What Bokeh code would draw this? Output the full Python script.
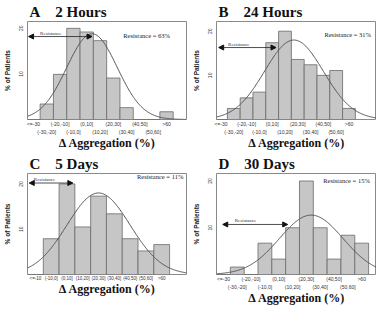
import numpy as np
from bokeh.plotting import figure
from bokeh.layouts import gridplot
from bokeh.models import FixedTicker, Arrow, NormalHead, Label, Range1d, LinearAxis
from bokeh.embed import file_html
from bokeh.resources import INLINE

# ---------------- data ----------------
labels_wide = ["<=-30", "(-30,-20]", "(-20,-10]", "(-10,0]", "(0,10]", "(10,20]",
               "(20,30]", "(30,40]", "(40,50]", "(50,60]", ">60"]
labels_narrow = ["<=-10", "(-10,0]", "(0,10]", "(10,20]", "(20,30]", "(30,40]",
                 "(40,50]", "(50,60]", ">60"]

pct_2h = [0, 3.4, 9.9, 20.0, 19.2, 17.3, 9.1, 2.6, 0, 0, 1.7]
pct_24h = [0, 2.5, 4.9, 6.2, 17.4, 20.0, 13.6, 12.4, 10.0, 11.1, 2.5]
pct_5d = [0, 7.9, 20.0, 10.5, 17.3, 13.4, 7.9, 5.2, 6.6]
pct_30d = [0, 1.6, 0, 6.7, 3.3, 10.0, 20.0, 10.0, 3.3, 8.4, 6.7]

# fitted normal curves: mean (%), sd (%), peak height (% of patients)
fit_2h = (9.0, 19.0, 18.8)
fit_24h = (22.0, 23.0, 18.0)
fit_5d = (25.0, 20.0, 18.0)
fit_30d = (28.5, 23.0, 12.7)

resistance = ["63%", "31%", "11%", "15%"]
titles = ["A\u00a0\u00a0\u00a0\u00a02 Hours", "B\u00a0\u00a0\u00a0\u00a024 Hours",
          "C\u00a0\u00a0\u00a0\u00a05 Days", "D\u00a0\u00a0\u00a0\u00a030 Days"]
x_title = "\u0394 Aggregation (%)"
y_title = "% of Patients"
y_ticks = [10, 20]

FILL = "#c6c6c6"
EDGE = "#6a6a6a"


def style_x(ax, ticks, labels, size, standoff):
    ax.ticker = FixedTicker(ticks=ticks)
    ax.major_label_overrides = {t: labels[t] for t in ticks}
    ax.major_label_text_font_size = size
    ax.major_label_text_color = "#333"
    ax.major_label_standoff = standoff
    ax.axis_line_color = None
    ax.major_tick_line_color = None
    ax.minor_tick_line_color = None
    ax.major_tick_out = 0
    ax.major_tick_in = 0
    ax.minor_tick_out = 0
    ax.minor_tick_in = 0


def set_xtitle(ax):
    ax.axis_label = x_title
    ax.axis_label_text_font = "Liberation Serif"
    ax.axis_label_text_font_style = "bold"
    ax.axis_label_text_font_size = "12px"
    ax.axis_label_text_color = "#111"
    ax.axis_label_standoff = -2


def panel(title, labels, values, fit, offset, res, xr, ymax, arrow, res_pos,
          two_rows, w, h, left, right, lab_size):
    p = figure(width=w, height=h, output_backend="svg", toolbar_location=None,
               x_range=Range1d(*xr), y_range=Range1d(0, ymax),
               min_border_left=left, min_border_right=right,
               min_border_top=0, min_border_bottom=0,
               background_fill_color="white", border_fill_color="white")
    p.title.text = title
    p.title.text_font = "Liberation Serif"
    p.title.text_font_style = "bold"
    p.title.text_font_size = "15px"
    p.title.text_color = "#111"
    p.title.offset = 2
    p.title.standoff = 3
    p.grid.visible = False
    p.outline_line_color = "#8a8a8a"
    p.outline_line_width = 1

    xs = list(range(len(labels)))
    p.vbar(x=xs, top=values, width=1.0, bottom=0, fill_color=FILL,
           line_color=EDGE, line_width=0.8)

    mu, sd, pk = fit
    cx = np.linspace(xr[0], xr[1], 200)
    v = (cx - offset) * 10.0
    cy = pk * np.exp(-((v - mu) ** 2) / (2 * sd ** 2))
    p.line(cx, cy, line_color="#555555", line_width=1)

    if two_rows:
        style_x(p.xaxis[0], xs[0::2], labels, lab_size, 1)
        ax2 = LinearAxis()
        style_x(ax2, xs[1::2], labels, lab_size, -1)
        set_xtitle(ax2)
        p.add_layout(ax2, "below")
    else:
        style_x(p.xaxis[0], xs, labels, lab_size, 1)
        set_xtitle(p.xaxis[0])

    ay = p.yaxis[0]
    ay.ticker = FixedTicker(ticks=y_ticks)
    ay.major_label_orientation = "vertical"
    ay.major_label_text_font_size = "5px"
    ay.major_label_text_color = "#333"
    ay.major_label_standoff = 4
    ay.axis_line_color = None
    ay.major_tick_line_color = None
    ay.minor_tick_line_color = None
    ay.major_tick_out = 0
    ay.major_tick_in = 0
    ay.minor_tick_out = 0
    ay.minor_tick_in = 0
    ay.axis_label = y_title
    ay.axis_label_text_font = "Liberation Sans"
    ay.axis_label_text_font_style = "bold"
    ay.axis_label_text_font_size = "6.5px"
    ay.axis_label_text_color = "#222"
    ay.axis_label_standoff = 6

    x0, x1, ya = arrow
    p.add_layout(Arrow(x_start=x0, y_start=ya, x_end=x1, y_end=ya,
                       line_color="#222", line_width=0.8,
                       start=NormalHead(size=5, fill_color="#111", line_color="#111"),
                       end=NormalHead(size=5, fill_color="#111", line_color="#111")))
    p.add_layout(Label(x=(x0 + x1) / 2 - (x1 - x0) * 0.15, y=ya, y_offset=1,
                       text="Resistance", text_font="Liberation Serif",
                       text_font_size="5px", text_color="#333",
                       text_align="center", text_baseline="bottom"))
    p.add_layout(Label(x=res_pos[0], y=res_pos[1], text="Resistance = " + res,
                       text_font="Liberation Serif", text_font_size="6.5px",
                       text_color="#222", text_align="center",
                       text_baseline="middle"))
    return p


pA = panel(titles[0], labels_wide, pct_2h, fit_2h, 3.5, resistance[0],
           (-0.45, 11.5), 21.5, (-0.37, 4.4, 18.2), (8.5, 18.5),
           True, 188, 152, 24, 2, "5px")
pB = panel(titles[1], labels_wide, pct_24h, fit_24h, 3.5, resistance[1],
           (-0.35, 12.15), 22.2, (-0.18, 4.3, 16.3), (9.9, 19.2),
           True, 188, 152, 28, 0, "5px")
pC = panel(titles[2], labels_narrow, pct_5d, fit_5d, 1.5, resistance[2],
           (-0.5, 9.57), 22.3, (-0.39, 2.37, 20.2), (7.9, 21.6),
           False, 188, 155, 24, 2, "4.5px")
pD = panel(titles[3], labels_wide, pct_30d, fit_30d, 3.5, resistance[3],
           (-0.5, 11.07), 21.6, (-0.05, 4.65, 10.7), (8.9, 20.0),
           True, 188, 155, 28, 0, "5px")

grid = gridplot([[pA, pB], [pC, pD]], toolbar_location=None)

open("out.html", "w").write(file_html(grid, INLINE))
